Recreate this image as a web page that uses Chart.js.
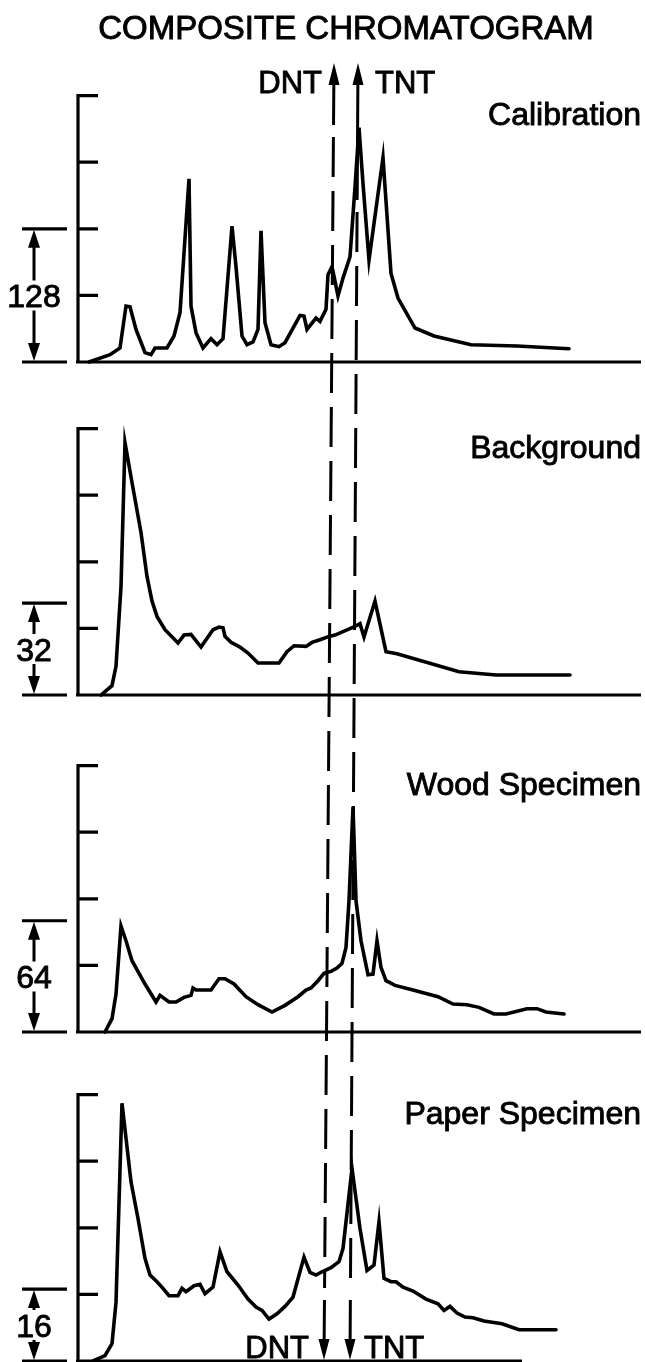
<!DOCTYPE html>
<html>
<head>
<meta charset="utf-8">
<script src="https://cdn.jsdelivr.net/npm/chart.js@4.4.1/dist/chart.umd.min.js"></script>
<style>
    html, body { margin: 0; padding: 0; background: #fff; }
    #wrap { width: 645px; height: 1362px; }
</style>
</head>
<body>
<div id="wrap"><canvas id="chromatogram" width="645" height="1362"></canvas></div>
<script>
// Titles and labels
const chartTitle = "COMPOSITE CHROMATOGRAM"
const panelNames = ["Calibration", "Background", "Wood Specimen", "Paper Specimen"]
const scaleLabels = ["128", "32", "64", "16"]
const scaleHeights = [2, 1.38, 1.67, 1.08] // bracket height, in axis divisions

// Retention time (arbitrary units) and detector signal (axis divisions)
const calTime = [1.1, 3.2, 4.2, 4.8, 5.2, 5.8, 6.7, 7.3, 7.7, 8.9, 9.6, 10.2, 11.1, 11.3, 11.8, 12.5, 13.3, 13.9, 14.5, 15.4, 15.8, 16.4, 16.9, 17.5, 18.0, 18.3, 18.7, 19.3, 20.1, 20.7, 22.2, 22.6, 22.9, 23.8, 24.2, 24.8, 25.0, 25.4, 25.6, 26.0, 26.5, 27.2, 27.7, 28.1, 28.5, 29.1, 30.5, 31.3, 32.0, 33.7, 35.6, 39.3, 43.9, 49.1]
const calSignal = [0, 0.11, 0.21, 0.84, 0.83, 0.49, 0.14, 0.11, 0.21, 0.21, 0.39, 0.74, 2.75, 0.84, 0.44, 0.21, 0.35, 0.26, 0.35, 2.04, 1.43, 0.39, 0.26, 0.30, 0.49, 1.97, 0.59, 0.26, 0.23, 0.29, 0.70, 0.69, 0.49, 0.66, 0.61, 0.79, 1.31, 1.43, 1.29, 0.99, 1.26, 1.58, 2.63, 3.52, 2.68, 1.53, 3.07, 1.33, 0.96, 0.51, 0.39, 0.26, 0.24, 0.20]

const bgTime = [2.3, 3.4, 3.8, 4.3, 4.7, 5.4, 6.3, 6.9, 7.4, 7.9, 8.7, 10.0, 10.6, 11.3, 12.3, 13.5, 14.1, 14.5, 14.7, 15.3, 16.2, 17.0, 18.0, 20.1, 20.9, 21.6, 22.8, 23.4, 24.2, 25.1, 25.7, 27.7, 28.2, 28.6, 29.7, 30.8, 31.9, 38.1, 41.8, 49.2]
const bgSignal = [0, 0.14, 0.43, 1.63, 3.79, 3.19, 2.44, 1.78, 1.41, 1.18, 0.98, 0.78, 0.90, 0.91, 0.72, 0.98, 1.02, 1.01, 0.88, 0.79, 0.72, 0.63, 0.48, 0.48, 0.65, 0.74, 0.73, 0.79, 0.83, 0.88, 0.90, 1.03, 1.07, 0.87, 1.41, 0.65, 0.62, 0.35, 0.30, 0.30]

const woodTime = [2.7, 3.4, 3.8, 4.3, 4.8, 5.4, 6.7, 7.8, 8.2, 9.1, 9.8, 10.6, 11.3, 11.5, 11.8, 13.3, 14.1, 14.7, 15.6, 16.8, 18.0, 19.4, 20.7, 22.0, 22.8, 23.3, 24.0, 24.6, 25.3, 25.9, 26.4, 26.8, 27.1, 27.5, 27.8, 28.3, 29.0, 29.5, 29.9, 30.3, 30.8, 31.7, 33.5, 36.0, 37.5, 38.9, 40.1, 41.6, 42.8, 44.9, 45.9, 46.8, 48.6]
const woodSignal = [0, 0.20, 0.57, 1.59, 1.37, 1.07, 0.72, 0.45, 0.55, 0.45, 0.45, 0.52, 0.55, 0.66, 0.63, 0.63, 0.80, 0.80, 0.72, 0.53, 0.41, 0.30, 0.40, 0.53, 0.63, 0.66, 0.77, 0.88, 0.91, 0.96, 1.03, 1.27, 1.97, 3.38, 1.97, 1.37, 0.86, 0.87, 1.37, 0.97, 0.77, 0.70, 0.63, 0.53, 0.42, 0.41, 0.37, 0.27, 0.27, 0.35, 0.35, 0.30, 0.27]

const paperTime = [1.5, 2.7, 3.4, 3.8, 4.4, 5.3, 6.0, 6.7, 7.2, 7.9, 8.5, 9.1, 10.0, 10.4, 10.8, 11.6, 12.2, 12.7, 13.5, 14.2, 14.9, 16.0, 17.0, 17.8, 18.4, 19.1, 19.9, 20.7, 21.5, 22.6, 23.2, 23.8, 24.4, 25.3, 26.1, 26.5, 27.4, 28.2, 28.9, 29.6, 30.1, 30.6, 31.3, 31.8, 32.5, 33.5, 34.8, 36.0, 36.6, 37.2, 37.9, 38.7, 39.5, 40.6, 42.4, 44.1, 47.8]
const paperSignal = [0, 0.08, 0.26, 0.88, 3.87, 2.69, 2.14, 1.54, 1.29, 1.19, 1.09, 0.98, 0.98, 1.09, 1.04, 1.13, 1.15, 1.01, 1.11, 1.64, 1.34, 1.14, 0.93, 0.81, 0.76, 0.63, 0.71, 0.82, 0.96, 1.56, 1.33, 1.29, 1.34, 1.40, 1.49, 1.69, 2.89, 1.99, 1.36, 1.44, 2.09, 1.24, 1.19, 1.19, 1.11, 1.05, 0.93, 0.86, 0.76, 0.82, 0.72, 0.66, 0.65, 0.60, 0.56, 0.47, 0.47]

// DNT / TNT marker positions (retention time at top and bottom of the figure)
const markerNames = ["DNT", "TNT"]
const markerTop = [25.6, 28.0]
const markerBottom = [24.6, 27.2]

const FONT = '"Liberation Sans", Arial, Helvetica, sans-serif'

const series = [
    [calTime, calSignal],
    [bgTime, bgSignal],
    [woodTime, woodSignal],
    [paperTime, paperSignal],
]

// each panel gets its own y axis, offset so the four panels stack
const axisRanges = [[-15, 5], [-10, 10], [-4.94, 15.06], [0, 20]]

const drawArrow = (ctx, x, tipY, dir, halfW, len) => {
    // dir = -1 points up, 1 points down
    ctx.beginPath()
    ctx.moveTo(x, tipY)
    ctx.lineTo(x - halfW, tipY - dir * len)
    ctx.lineTo(x + halfW, tipY - dir * len)
    ctx.closePath()
    ctx.fill()
}

// scanned-print look: fill plus a thin stroke makes the letters heavier
const boldText = (ctx, text, x, y) => {
    ctx.fillText(text, x, y)
    ctx.lineWidth = 0.9
    ctx.strokeText(text, x, y)
}

const annotations = {
    id: "annotations",
    beforeDatasetsDraw(chart) {
        const ctx = chart.ctx
        const xs = chart.scales.x
        ctx.save()
        ctx.strokeStyle = "#000"
        ctx.fillStyle = "#000"
        ctx.lineJoin = "miter"

        panelNames.forEach((name, i) => {
            const ys = chart.scales["y" + i]
            const base = ys.getPixelForValue(0)
            const axisX = xs.getPixelForValue(0)

            // baseline
            ctx.lineWidth = 3.2
            const endX = i === 3 ? 522 : xs.right
            ctx.beginPath()
            ctx.moveTo(axisX - 2, base)
            ctx.lineTo(endX, base)
            ctx.stroke()

            // y axis with inward ticks
            ctx.beginPath()
            ctx.moveTo(axisX, base)
            ctx.lineTo(axisX, ys.getPixelForValue(4) - 1.6)
            for (let t = 1; t <= 4; t++) {
                const ty = ys.getPixelForValue(t)
                ctx.moveTo(axisX, ty)
                ctx.lineTo(axisX + 20, ty)
            }
            ctx.stroke()

            // scale bracket on the left
            const top = ys.getPixelForValue(scaleHeights[i])
            const mid = (top + base) / 2
            const bx = 34
            ctx.beginPath()
            ctx.moveTo(22, top)
            ctx.lineTo(67, top)
            ctx.moveTo(22, base)
            ctx.lineTo(67, base)
            ctx.stroke()
            ctx.lineWidth = 3
            ctx.beginPath()
            if (mid - 15 > top + 16) {
                ctx.moveTo(bx, top + 16)
                ctx.lineTo(bx, mid - 15)
            }
            if (mid + 15 < base - 16) {
                ctx.moveTo(bx, mid + 15)
                ctx.lineTo(bx, base - 16)
            }
            ctx.stroke()
            drawArrow(ctx, bx, top + 1, -1, 6, 18)
            drawArrow(ctx, bx, base - 1, 1, 6, 18)

            ctx.font = "32px " + FONT
            ctx.textAlign = "center"
            ctx.textBaseline = "alphabetic"
            boldText(ctx, scaleLabels[i], bx, mid + 11.5)

            // panel name
            ctx.textAlign = "right"
            boldText(ctx, name, 641, ys.getPixelForValue(3.56))
        })
        ctx.restore()
    },
    afterDatasetsDraw(chart) {
        const ctx = chart.ctx
        const xs = chart.scales.x
        ctx.save()
        ctx.strokeStyle = "#000"
        ctx.fillStyle = "#000"

        // title
        ctx.font = "33px " + FONT
        ctx.textAlign = "center"
        ctx.textBaseline = "alphabetic"
        boldText(ctx, chartTitle, 346, 39)

        const tipTop = 63
        const tipBottom = 1360
        const solidTop = [125, 200]
        const solidBottom = 1300

        markerNames.forEach((m, i) => {
            const x0 = xs.getPixelForValue(markerTop[i])
            const x1 = xs.getPixelForValue(markerBottom[i])
            const xAt = (y) => x0 + (x1 - x0) * (y - tipTop) / (tipBottom - tipTop)

            ctx.lineWidth = 3
            // solid shafts near the arrows
            ctx.setLineDash([])
            ctx.beginPath()
            ctx.moveTo(xAt(tipTop + 18), tipTop + 18)
            ctx.lineTo(xAt(solidTop[i]), solidTop[i])
            ctx.moveTo(xAt(solidBottom), solidBottom)
            ctx.lineTo(xAt(tipBottom - 18), tipBottom - 18)
            ctx.stroke()

            // dashed part
            ctx.setLineDash([40, 14])
            ctx.beginPath()
            ctx.moveTo(xAt(solidTop[i] + 12), solidTop[i] + 12)
            ctx.lineTo(xAt(solidBottom - 12), solidBottom - 12)
            ctx.stroke()
            ctx.setLineDash([])

            drawArrow(ctx, xAt(tipTop), tipTop, -1, 5.5, 22)
            drawArrow(ctx, xAt(tipBottom), tipBottom, 1, 5.5, 21)

            // labels
            ctx.font = "31px " + FONT
            ctx.textAlign = i === 0 ? "right" : "left"
            const off = i === 0 ? -12 : 17
            boldText(ctx, m, xAt(tipTop) + off, 93)
            boldText(ctx, m, xAt(tipBottom) + off - 3, 1358)
        })
        ctx.restore()
    },
}

const scales = {
    x: { type: "linear", min: 0, max: 56.3, display: false },
}
axisRanges.forEach(([lo, hi], i) => {
    scales["y" + i] = { type: "linear", min: lo, max: hi, display: false }
})

new Chart(document.getElementById("chromatogram").getContext("2d"), {
    type: "line",
    data: {
        datasets: series.map(([t, s], i) => ({
            label: panelNames[i],
            data: t.map((v, k) => ({ x: v, y: s[k] })),
            yAxisID: "y" + i,
            borderColor: "#000",
            borderWidth: 3.6,
            borderJoinStyle: "miter",
            borderCapStyle: "round",
            pointRadius: 0,
            tension: 0,
            fill: false,
        })),
    },
    options: {
        responsive: false,
        animation: false,
        devicePixelRatio: 1,
        layout: {
            autoPadding: false,
            padding: { left: 78, right: 4, top: 29, bottom: 1 },
        },
        scales,
        plugins: {
            legend: { display: false },
            tooltip: { enabled: false },
        },
    },
    plugins: [annotations],
})
</script>
</body>
</html>
